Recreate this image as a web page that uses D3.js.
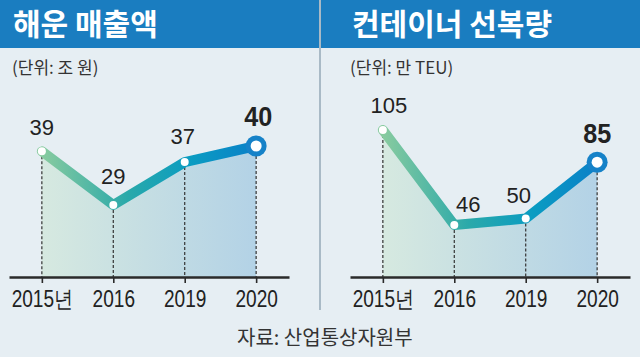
<!DOCTYPE html>
<html><head><meta charset="utf-8">
<script src="https://cdn.jsdelivr.net/npm/d3@7"></script>
<style>
html,body{margin:0;padding:0;background:#e6eef3;}
svg{display:block;}
</style></head>
<body>
<svg id="c" width="640" height="357"></svg>
<script>
const years = ["2015년", "2016", "2019", "2020"];
const revenue = [39, 29, 37, 40];
const capacity = [105, 46, 50, 85];
const titles = ["해운 매출액", "컨테이너 선복량"];
const units = ["(단위: 조 원)", "(단위: 만 TEU)"];
const source = "자료: 산업통상자원부";

const svg = d3.select("#c");
const W = 640, H = 357;
svg.append("rect").attr("width", W).attr("height", H).attr("fill", "#e6eef3");

const defs = svg.append("defs");
const numFont = "'Liberation Sans','Arial',sans-serif";
const korFont = "'Noto Sans CJK KR','Noto Sans',sans-serif";

const panels = [
  {x0: 0, x1: 319, title: titles[0], tx: 13, unit: units[0], ux: 12, values: revenue,
   range: [9, 289], yd: [29, 40], yr: [205, 146],
   lab: [[0, -16], [0, -21], [-2, -18], [2, -20]]},
  {x0: 321, x1: 640, title: titles[1], tx: 352, unit: units[1], ux: 350, values: capacity,
   range: [350, 630], yd: [46, 105], yr: [225, 130],
   lab: [[6, -17], [14, -13], [-7, -16], [0, -19]]}
];
const baseY = 277;

panels.forEach((p, i) => {
  const g = svg.append("g");
  g.append("rect").attr("x", p.x0).attr("y", 0).attr("width", p.x1 - p.x0).attr("height", 48).attr("fill", "#1a7dc0");
  g.append("text").attr("x", p.tx).attr("y", 35).attr("fill", "#fff")
    .attr("font-family", korFont).attr("font-weight", 700).attr("font-size", 30).text(p.title);
  g.append("text").attr("x", p.ux).attr("y", 74).attr("fill", "#333")
    .attr("font-family", korFont).attr("font-size", 17).text(p.unit);

  const x = d3.scalePoint().domain(years).range(p.range).padding(0.46);
  const y = d3.scaleLinear().domain(p.yd).range(p.yr);
  const data = years.map((yr, k) => ({yr, v: p.values[k]}));
  const xa = x(years[0]), xb = x(years[years.length - 1]);

  const ag = defs.append("linearGradient").attr("id", "ag" + i).attr("gradientUnits", "userSpaceOnUse")
    .attr("x1", xa).attr("x2", xb).attr("y1", 0).attr("y2", 0);
  ag.append("stop").attr("offset", 0).attr("stop-color", "#d6e9e0");
  ag.append("stop").attr("offset", 1).attr("stop-color", "#b3d2e6");
  const lg = defs.append("linearGradient").attr("id", "lg" + i).attr("gradientUnits", "userSpaceOnUse")
    .attr("x1", xa).attr("x2", xb).attr("y1", 0).attr("y2", 0);
  lg.append("stop").attr("offset", 0).attr("stop-color", "#88cb9f");
  lg.append("stop").attr("offset", 0.4).attr("stop-color", "#2aa9aa");
  lg.append("stop").attr("offset", 0.7).attr("stop-color", "#0a9cc2");
  lg.append("stop").attr("offset", 1).attr("stop-color", "#0a80c8");

  const area = d3.area().x(d => x(d.yr)).y0(baseY).y1(d => y(d.v));
  g.append("path").datum(data).attr("d", area).attr("fill", `url(#ag${i})`);

  g.selectAll(".drop").data(data).join("line")
    .attr("x1", d => x(d.yr)).attr("x2", d => x(d.yr))
    .attr("y1", d => y(d.v)).attr("y2", baseY)
    .attr("stroke", "#333").attr("stroke-width", 1.2).attr("stroke-dasharray", "3,2");

  const axis = d3.axisBottom(x).tickSize(6).tickSizeOuter(0).tickPadding(8);
  const ax = g.append("g").attr("transform", `translate(0,${baseY})`).call(axis);
  ax.select(".domain").attr("stroke", "#2a2a2a").attr("stroke-width", 2.6);
  ax.selectAll(".tick line").attr("stroke", "#2a2a2a").attr("stroke-width", 1.6);
  ax.selectAll(".tick text").attr("fill", "#222").attr("font-family", numFont).attr("font-size", 23)
    .attr("transform", "scale(0.83,1)");

  const line = d3.line().x(d => x(d.yr)).y(d => y(d.v));
  g.append("path").datum(data).attr("d", line).attr("fill", "none")
    .attr("stroke", `url(#lg${i})`).attr("stroke-width", 10)
    .attr("stroke-linecap", "round").attr("stroke-linejoin", "round");

  const last = data[data.length - 1];
  g.append("circle").attr("cx", x(last.yr)).attr("cy", y(last.v)).attr("r", 10.5).attr("fill", "#1682c8");
  g.selectAll(".pt").data(data).join("circle")
    .attr("cx", d => x(d.yr)).attr("cy", d => y(d.v))
    .attr("r", (d, k) => k === data.length - 1 ? 5.5 : 4).attr("fill", "#fff");

  g.selectAll(".lab").data(data).join("g")
    .attr("transform", (d, k) => `translate(${x(d.yr) + p.lab[k][0]},${y(d.v) + p.lab[k][1]})`)
    .append("text")
    .attr("text-anchor", "middle").attr("fill", "#222")
    .attr("transform", (d, k) => k === data.length - 1 ? "scale(0.9,1)" : null)
    .attr("font-family", numFont)
    .attr("font-size", (d, k) => k === data.length - 1 ? 28 : 22)
    .attr("font-weight", (d, k) => k === data.length - 1 ? 700 : 400)
    .text(d => d.v);
});

svg.append("line").attr("x1", 320).attr("x2", 320).attr("y1", 0).attr("y2", 310)
  .attr("stroke", "#a9bac6").attr("stroke-width", 2);

svg.append("text").attr("x", 237).attr("y", 345).attr("fill", "#333")
  .attr("font-family", korFont).attr("font-size", 20).text(source);
</script>
</body></html>
